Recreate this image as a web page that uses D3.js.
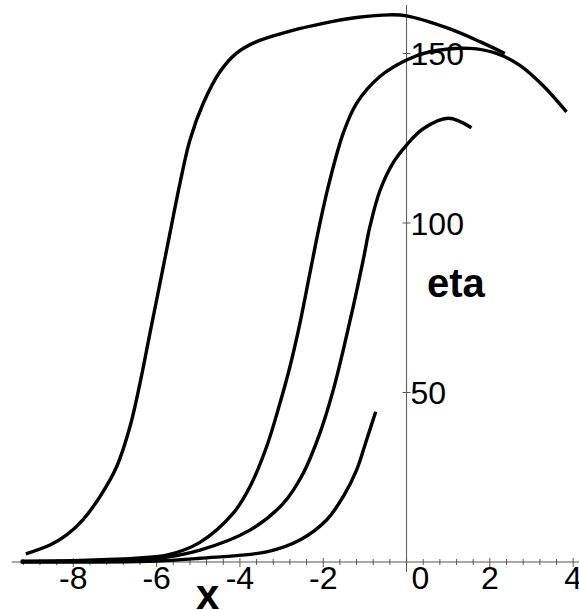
<!DOCTYPE html>
<html>
<head>
<meta charset="utf-8">
<script src="https://cdn.jsdelivr.net/npm/d3@7"></script>
<style>
  html, body { margin: 0; padding: 0; background: #fff; }
  svg { display: block; }
</style>
</head>
<body>
<svg id="chart" width="579" height="610"></svg>
<script>
// ---- data ----
const curveAx = [-9.14, -8.56, -8.16, -7.76, -7.36, -6.96, -6.64, -6.40, -6.16, -5.92, -5.68, -5.44, -5.20, -4.88, -4.48, -4.08, -3.60, -2.80, -2.00, -1.20, -0.40, 0.00, 0.96, 1.76, 2.36];
const curveAy = [2.4, 5.0, 8.0, 12.6, 19.3, 28.1, 39.9, 52.7, 67.5, 82.2, 97.0, 111.7, 124.5, 135.3, 144.6, 150.1, 153.5, 156.6, 158.9, 160.6, 161.4, 161.1, 157.6, 153.5, 150.0];

const curveBx = [-9.26, -8.0, -7.0, -6.4, -5.76, -4.96, -4.16, -3.76, -3.36, -3.04, -2.80, -2.56, -2.32, -2.08, -1.84, -1.52, -1.20, -0.64, 0.00, 0.56, 1.52, 2.16, 2.72, 3.28, 3.84];
const curveBy = [0.2, 0.4, 0.8, 1.2, 2.0, 5.8, 14.4, 22.2, 34.0, 46.8, 57.6, 70.4, 85.2, 99.9, 112.7, 126.5, 135.3, 143.2, 148.1, 150.5, 151.5, 150.0, 146.5, 140.5, 132.8];

const curveCx = [-9.26, -7.0, -6.0, -4.96, -3.76, -2.96, -2.48, -2.08, -1.76, -1.52, -1.28, -1.04, -0.88, -0.64, -0.32, 0.00, 0.40, 1.00, 1.56];
const curveCy = [0.1, 0.4, 1.0, 3.5, 9.4, 17.3, 26.2, 38.0, 50.7, 62.5, 75.3, 89.1, 98.9, 109.5, 117.8, 123.0, 127.8, 130.9, 128.1];

const curveDx = [-9.26, -6.0, -4.96, -3.36, -2.56, -1.92, -1.52, -1.20, -0.96, -0.74];
const curveDy = [0.0, 0.3, 1.1, 3.0, 6.5, 12.4, 19.3, 27.1, 36.0, 44.3];

const xMajorTicks = [-8, -6, -4, -2, 0, 2, 4];
const xTickLabels = ["-8", "-6", "-4", "-2", "0", "2", "4"];
const xMinorTicks = [-9.2, -8.8, -8.4, -7.6, -7.2, -6.8, -6.4, -5.6, -5.2, -4.8, -4.4, -3.6, -3.2, -2.8, -2.4, -1.6, -1.2, -0.8, -0.4, 0.4, 0.8, 1.2, 1.6, 2.4, 2.8, 3.2, 3.6];
const yMajorTicks = [50, 100, 150];
const yTickLabels = ["50", "100", "150"];
const xAxisTitle = "x";
const yAxisTitle = "eta";

// ---- drawing ----
const svg = d3.select("#chart");
const x = d3.scaleLinear().domain([-9.76, 4.14]).range([0, 579]);
const y = d3.scaleLinear().domain([-2.95, 164.3]).range([572, 5]);

const axisColor = "#555";
const font = "'Liberation Sans', Arial, Helvetica, sans-serif";

// x axis line
svg.append("line")
  .attr("x1", x(-9.48)).attr("x2", x(4.14))
  .attr("y1", y(0)).attr("y2", y(0))
  .attr("stroke", axisColor).attr("stroke-width", 1);
// y axis line
svg.append("line")
  .attr("x1", x(0)).attr("x2", x(0))
  .attr("y1", y(164.3)).attr("y2", y(-2.95))
  .attr("stroke", axisColor).attr("stroke-width", 1);

// minor x ticks
svg.append("g").selectAll("line").data(xMinorTicks).join("line")
  .attr("x1", d => x(d)).attr("x2", d => x(d))
  .attr("y1", y(0) - 3).attr("y2", y(0) + 3)
  .attr("stroke", axisColor).attr("stroke-width", 1);
// major x ticks
svg.append("g").selectAll("line").data(xMajorTicks).join("line")
  .attr("x1", d => x(d)).attr("x2", d => x(d))
  .attr("y1", y(0) - 4).attr("y2", y(0) + 5)
  .attr("stroke", axisColor).attr("stroke-width", 1);
// y ticks
svg.append("g").selectAll("line").data(yMajorTicks).join("line")
  .attr("x1", x(0) - 4).attr("x2", x(0) + 4)
  .attr("y1", d => y(d)).attr("y2", d => y(d))
  .attr("stroke", axisColor).attr("stroke-width", 1);

// curves
const line = d3.line()
  .x(d => x(d[0])).y(d => y(d[1]))
  .curve(d3.curveCatmullRom.alpha(0.5));
const curves = [
  d3.zip(curveAx, curveAy),
  d3.zip(curveBx, curveBy),
  d3.zip(curveCx, curveCy),
  d3.zip(curveDx, curveDy)
];
svg.append("g").selectAll("path").data(curves).join("path")
  .attr("d", line)
  .attr("fill", "none")
  .attr("stroke", "#000")
  .attr("stroke-width", 3.4)
  .attr("stroke-linecap", "butt")
  .attr("stroke-linejoin", "round");

// x tick labels
svg.append("g").selectAll("text").data(xMajorTicks).join("text")
  .attr("x", d => d === 0 ? x(d) + 5 : x(d))
  .attr("y", 589)
  .attr("text-anchor", d => d === 0 ? "start" : "middle")
  .attr("font-family", font)
  .attr("font-size", 32)
  .attr("fill", "#000")
  .text((d, i) => xTickLabels[i]);

// y tick labels
svg.append("g").selectAll("text").data(yMajorTicks).join("text")
  .attr("x", x(0) + 4)
  .attr("y", d => y(d) + 12)
  .attr("text-anchor", "start")
  .attr("font-family", font)
  .attr("font-size", 32)
  .attr("fill", "#000")
  .text((d, i) => yTickLabels[i]);

// axis titles
svg.append("text")
  .attr("x", 196).attr("y", 609)
  .attr("font-family", font).attr("font-weight", "bold")
  .attr("font-size", 42).attr("fill", "#000")
  .text(xAxisTitle);
svg.append("text")
  .attr("x", 427).attr("y", 297)
  .attr("font-family", font).attr("font-weight", "bold")
  .attr("font-size", 40).attr("fill", "#000")
  .text(yAxisTitle);
</script>
</body>
</html>
